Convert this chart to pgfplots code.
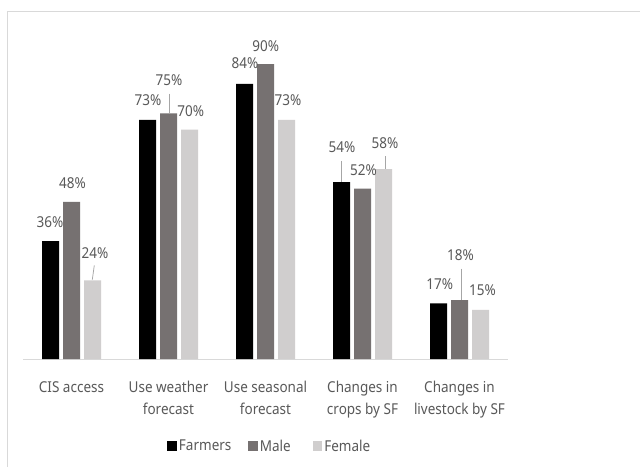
\documentclass[border=0pt]{standalone}
\usepackage{pgfplots}
\pgfplotsset{compat=1.18}
\usepackage{fontspec}
\setmainfont{Noto Sans}[FakeStretch=0.9]
\definecolor{txt}{HTML}{595959}
\definecolor{cF}{HTML}{000000}
\definecolor{cM}{HTML}{767171}
\definecolor{cW}{HTML}{D0CECE}
\definecolor{axl}{HTML}{D9D9D9}
\definecolor{lead}{HTML}{A6A6A6}
\newcommand\lab{\fontsize{15bp}{21.7bp}\selectfont}
\pgfplotsset{
  sqlegend/.style={legend image code/.code={\fill[##1,draw=none] (0bp,-5bp) rectangle (9.5bp,5bp);}}
}
\begin{document}
\begin{tikzpicture}
\useasboundingbox (0,0) rectangle (640bp,467bp);
\fill[white] (0,0) rectangle (640bp,467bp);
\draw[axl, line width=1bp] (7.5bp,0) -- (7.5bp,455.5bp) -- (640bp,455.5bp);
\begin{axis}[
  at={(23bp,108bp)}, anchor=south west,
  scale only axis, width=485bp, height=327.5bp,
  xmin=-0.5, xmax=4.5, ymin=0, ymax=100,
  ybar=4bp, bar width=17bp,
  axis y line=none, ytick=\empty,
  axis x line*=bottom,
  x axis line style={axl, line width=1bp, -},
  xtick={0,1,2,3,4},
  xticklabels={CIS access, Use weather\\forecast, Use seasonal\\forecast, Changes in\\crops by SF, Changes in\\livestock by SF},
  xtick style={draw=none},
  xticklabel style={align=center, font=\lab, text=txt, inner sep=0pt, yshift=-18bp},
  sqlegend,
  legend style={at={(axis description cs:0.509,-0.266)}, anchor=center, draw=none, fill=none,
    legend columns=3, font=\lab, text=txt,
    nodes={inner sep=2bp}},
  clip=false,
]
\addplot[fill=cF, draw=none] coordinates {(0,36) (1,73) (2,84) (3,54) (4,17)};
\addplot[fill=cM, draw=none] coordinates {(0,48) (1,75) (2,90) (3,52) (4,18)};
\addplot[fill=cW, draw=none] coordinates {(0,24) (1,70) (2,73) (3,58) (4,15)};
\legend{Farmers\rule{15bp}{0pt}, Male\rule{20bp}{0pt}, Female}
% data labels
\node[font=\lab, text=txt, inner sep=0pt] at ([xshift=-21.5bp,yshift=19bp]axis cs:0,36) {36\%};
\node[font=\lab, text=txt, inner sep=0pt] at ([xshift=1bp,yshift=18.7bp]axis cs:0,48) {48\%};
\node[font=\lab, text=txt, inner sep=0pt] at ([xshift=23.5bp,yshift=27.7bp]axis cs:0,24) {24\%};
\draw[lead, line width=0.75bp] ([xshift=22.8bp,yshift=15bp]axis cs:0,24) -- ([xshift=20.8bp,yshift=0.7bp]axis cs:0,24);
\node[font=\lab, text=txt, inner sep=0pt] at ([xshift=-20.5bp,yshift=19.7bp]axis cs:1,73) {73\%};
\node[font=\lab, text=txt, inner sep=0pt] at ([xshift=0.5bp,yshift=33bp]axis cs:1,75) {75\%};
\draw[lead, line width=0.75bp] ([xshift=1.2bp,yshift=19.7bp]axis cs:1,75) -- ([xshift=1.2bp,yshift=0bp]axis cs:1,75);
\node[font=\lab, text=txt, inner sep=0pt] at ([xshift=22.3bp,yshift=18.3bp]axis cs:1,70) {70\%};
\node[font=\lab, text=txt, inner sep=0pt] at ([xshift=-20.5bp,yshift=20.3bp]axis cs:2,84) {84\%};
\node[font=\lab, text=txt, inner sep=0pt] at ([xshift=0.3bp,yshift=18bp]axis cs:2,90) {90\%};
\node[font=\lab, text=txt, inner sep=0pt] at ([xshift=22.5bp,yshift=20bp]axis cs:2,73) {73\%};
\node[font=\lab, text=txt, inner sep=0pt] at ([xshift=-20.5bp,yshift=35.3bp]axis cs:3,54) {54\%};
\draw[lead, line width=0.75bp] ([xshift=-20.8bp,yshift=21.3bp]axis cs:3,54) -- ([xshift=-20.8bp,yshift=0bp]axis cs:3,54);
\node[font=\lab, text=txt, inner sep=0pt] at ([xshift=1bp,yshift=18.3bp]axis cs:3,52) {52\%};
\node[font=\lab, text=txt, inner sep=0pt] at ([xshift=22.5bp,yshift=26bp]axis cs:3,58) {58\%};
\draw[lead, line width=0.75bp] ([xshift=22.5bp,yshift=12.7bp]axis cs:3,58) -- ([xshift=22.5bp,yshift=0bp]axis cs:3,58);
\node[font=\lab, text=txt, inner sep=0pt] at ([xshift=-19.8bp,yshift=19bp]axis cs:4,17) {17\%};
\node[font=\lab, text=txt, inner sep=0pt] at ([xshift=1bp,yshift=45bp]axis cs:4,18) {18\%};
\draw[lead, line width=0.75bp] ([xshift=1.5bp,yshift=31.4bp]axis cs:4,18) -- ([xshift=1.5bp,yshift=0bp]axis cs:4,18);
\node[font=\lab, text=txt, inner sep=0pt] at ([xshift=23bp,yshift=19.3bp]axis cs:4,15) {15\%};
\end{axis}
\end{tikzpicture}
\end{document}
